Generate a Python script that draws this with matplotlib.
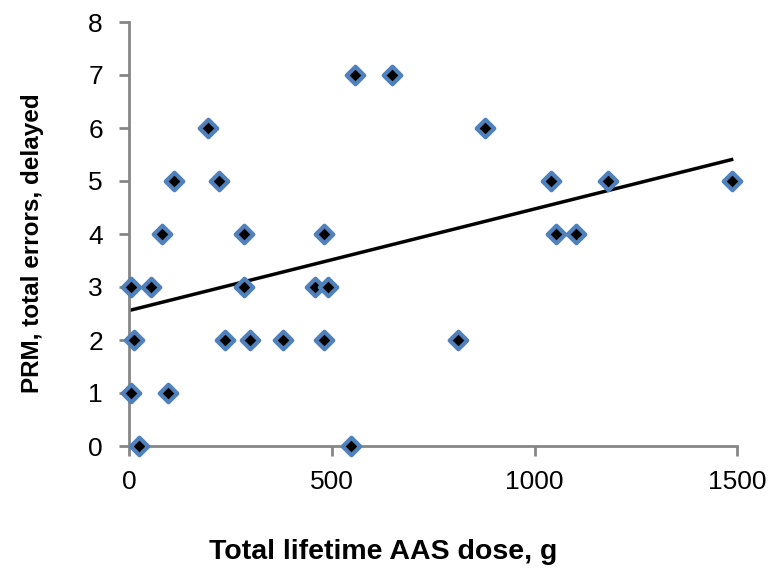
import numpy as np
import matplotlib
matplotlib.use("Agg")
import matplotlib.pyplot as plt

plt.rcParams['font.family'] = ['Liberation Sans', 'DejaVu Sans']

# Data
dose_g = [3, 53, 283, 459, 489,
          12, 236, 298, 378, 480, 810,
          3, 96,
          25, 547,
          556, 649,
          195, 878,
          111, 221, 1040, 1180, 1486,
          81, 284, 481, 1053, 1103]
errors = [3, 3, 3, 3, 3,
          2, 2, 2, 2, 2, 2,
          1, 1,
          0, 0,
          7, 7,
          6, 6,
          5, 5, 5, 5, 5,
          4, 4, 4, 4, 4]

x_ticks = [0, 500, 1000, 1500]
y_ticks = [0, 1, 2, 3, 4, 5, 6, 7, 8]

fig = plt.figure(figsize=(7.74, 5.73), dpi=100)
ax = fig.add_axes([129.3/774, 1 - 446/573, (737.3-129.3)/774, (446-22)/573])

x = np.array(dose_g, dtype=float)
y = np.array(errors, dtype=float)
slope, intercept = np.polyfit(x, y, 1)
xl = np.array([x.min(), x.max()])
ax.plot(xl, slope*xl + intercept, color='black', lw=2.5, zorder=2)

ax.scatter(x, y, marker='D', s=80, facecolor='black', edgecolor='#4F81BD',
           linewidths=3.0, zorder=3, clip_on=False)

ax.set_xlim(0, 1500)
ax.set_ylim(0, 8)
ax.set_xticks(x_ticks)
ax.set_yticks(y_ticks)
for s in ['top', 'right']:
    ax.spines[s].set_visible(False)
for s in ['left', 'bottom']:
    ax.spines[s].set_color('#868686')
    ax.spines[s].set_linewidth(2)
ax.tick_params(axis='both', colors='#868686', width=2, length=7,
               labelsize=19, labelcolor='black', direction='out')
ax.tick_params(axis='x', pad=10)
ax.tick_params(axis='y', pad=12)

ax.set_xlabel('Total lifetime AAS dose, g', fontsize=20.5, fontweight='bold')
ax.set_ylabel('PRM, total errors, delayed', fontsize=17.5, fontweight='bold')
ax.xaxis.set_label_coords((383 - 129.3)/608, (446 - 539)/424)
ax.yaxis.set_label_coords((44 - 129.3)/608, (446 - 243.5)/424)

fig.savefig('out.png', dpi=100)
